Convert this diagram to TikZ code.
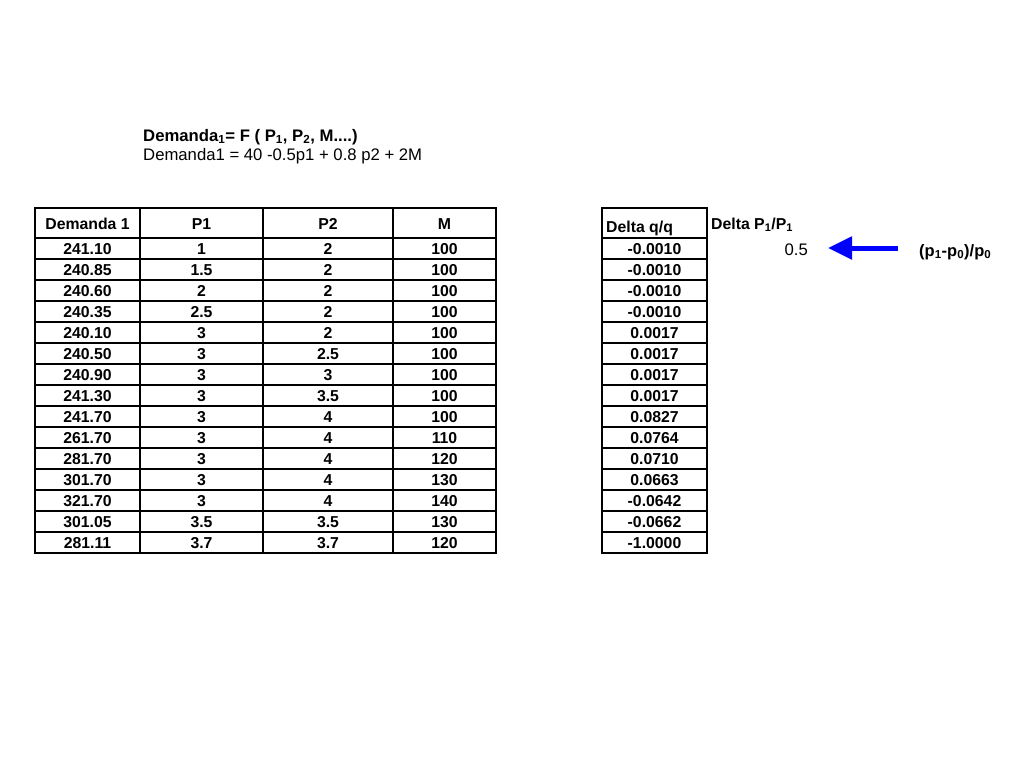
\documentclass[tikz,border=0pt]{standalone}
\usepackage{fontspec}
\setmainfont{Liberation Sans}
\usetikzlibrary{arrows.meta}

\begin{document}
\begin{tikzpicture}[x=1pt, y=-1pt,
		cell/.style={anchor=base, inner sep=0pt, font=\fontsize{15.8}{18}\selectfont\bfseries},
		label/.style={anchor=base west, inner sep=0pt, font=\fontsize{16.7}{19}\selectfont},
		thinrule/.style={line width=1.1pt},
		thickrule/.style={line width=2.2pt}]
			\useasboundingbox (0,0) rectangle (1024,768);
			\node[label, font=\fontsize{16.7}{19}\selectfont\bfseries] (fun) at (143,141)
				{Demanda\textsubscript{1}= F ( P\textsubscript{1}, P\textsubscript{2}, M....)};
			\node[label] (eq) at (143,160) {Demanda1 = 40 -0.5p1 + 0.8 p2 + 2M};
			\draw[thickrule] (35,208) rectangle (496,553);
			\draw[thickrule] (35,238) -- (496,238);
			\foreach \x in {140, 263, 393}
			{
				\draw[thickrule] (\x,208) -- (\x,553);
			}
			\foreach \i in {1, ..., 14}
			{
				\draw[thinrule] (35,238+21*\i) -- (496,238+21*\i);
			}
			\draw[line width=2.6pt] (602,208) rectangle (707,553);
			\draw[line width=2.6pt] (602,238) -- (707,238);
			\foreach \i in {1, ..., 14}
			{
				\draw[thinrule] (602,238+21*\i) -- (707,238+21*\i);
			}
			\node[cell] (hdem) at (87.5,229) {Demanda 1};
			\node[cell] (hpa) at (201.5,229) {P1};
			\node[cell] (hpb) at (328,229) {P2};
			\node[cell] (hm) at (444.5,229) {M};
			\node[cell, anchor=base west] (hq) at (606,232) {Delta q/q};
			\node[cell, anchor=base west] (hp) at (711,229) {Delta P\textsubscript{1}/P\textsubscript{1}};
			\foreach \d/\pa/\pb/\m/\q [count=\i] in {
				241.10/1/2/100/-0.0010, 240.85/1.5/2/100/-0.0010, 240.60/2/2/100/-0.0010,
				240.35/2.5/2/100/-0.0010, 240.10/3/2/100/0.0017, 240.50/3/2.5/100/0.0017,
				240.90/3/3/100/0.0017, 241.30/3/3.5/100/0.0017, 241.70/3/4/100/0.0827,
				261.70/3/4/110/0.0764, 281.70/3/4/120/0.0710, 301.70/3/4/130/0.0663,
				321.70/3/4/140/-0.0642, 301.05/3.5/3.5/130/-0.0662, 281.11/3.7/3.7/120/-1.0000}
			{
				\node[cell] (dem\i) at (87.5,233+21*\i) {\d};
				\node[cell] (pa\i) at (201.5,233+21*\i) {\pa};
				\node[cell] (pb\i) at (328,233+21*\i) {\pb};
				\node[cell] (m\i) at (444.5,233+21*\i) {\m};
				\node[cell] (q\i) at (654.5,233+21*\i) {\q};
			}
			\node[label, anchor=base east] (half) at (808,255) {0.5};
			\node[label, font=\fontsize{16.5}{19}\selectfont\bfseries] (frac) at (919,256)
				{(p\textsubscript{1}-p\textsubscript{0})/p\textsubscript{0}};
			\draw[blue, line width=5pt, -{Triangle[length=24pt, width=22pt]},
				shorten <=21pt, shorten >=20pt] (frac.west |- 0,248) -- (half.east |- 0,248);
		\end{tikzpicture}
\end{document}
